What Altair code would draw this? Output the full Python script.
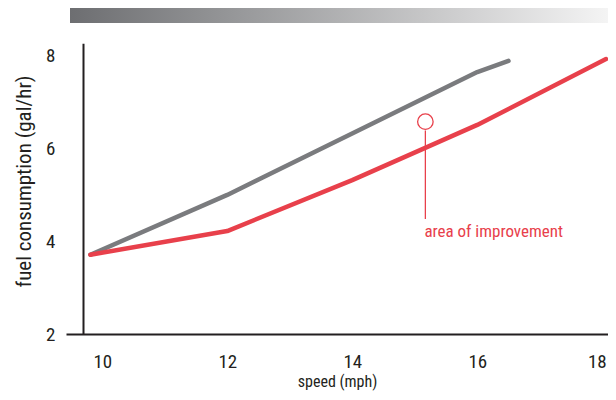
import altair as alt
import pandas as pd

# data
gray_speed = [9.81, 12.0, 16.0, 16.5]
gray_fuel = [3.71, 5.00, 7.65, 7.89]
red_speed = [9.81, 12.0, 14.0, 16.0, 18.06]
red_fuel = [3.71, 4.22, 5.32, 6.51, 7.93]
x_ticks = [10, 12, 14, 16, 18]
y_ticks = [2, 4, 6, 8]
note_text = "area of improvement"
note_speed = 15.17
note_circle_fuel = 6.58
note_line_top = 6.39
note_line_bottom = 4.48
note_text_fuel = 4.09

FONT = "Roboto Condensed, Liberation Sans Narrow, Roboto, sans-serif"
RED = "#e8404b"
GRAY = "#7a7b7e"
INK = "#231f20"

xs = alt.Scale(domain=[9.42, 18.092], nice=False, zero=False)
ys = alt.Scale(domain=[2, 8.6], nice=False, zero=False)

gray_df = pd.DataFrame({"speed": gray_speed, "fuel": gray_fuel, "order": range(len(gray_speed))})
red_df = pd.DataFrame({"speed": red_speed, "fuel": red_fuel, "order": range(len(red_speed))})

x_axis = alt.Axis(values=x_ticks, format="d", title="speed (mph)", domain=True, domainColor=INK,
                  domainWidth=2, ticks=False, grid=False, labelFont=FONT, labelFontSize=19,
                  labelColor=INK, labelPadding=18, labelFlush=10, labelFlushOffset=4,
                  titleFont=FONT, titleFontSize=16,
                  titleFontWeight="normal", titleColor=INK, titlePadding=2)
y_axis = alt.Axis(values=y_ticks, format="d", title="fuel consumption (gal/hr)", domain=False,
                  ticks=False, grid=False, labelFont=FONT, labelFontSize=19, labelColor=INK,
                  labelPadding=11, titleFont=FONT, titleFontSize=21, titleFontWeight="normal",
                  titleColor=INK, titlePadding=11)

base_gray = alt.Chart(gray_df).mark_line(color=GRAY, strokeWidth=4.5, strokeCap="round",
                                         strokeJoin="round").encode(
    x=alt.X("speed:Q", scale=xs, axis=x_axis),
    y=alt.Y("fuel:Q", scale=ys, axis=y_axis),
    order="order:Q",
)
red_line = alt.Chart(red_df).mark_line(color=RED, strokeWidth=4.5, strokeCap="round",
                                       strokeJoin="round").encode(
    x=alt.X("speed:Q", scale=xs),
    y=alt.Y("fuel:Q", scale=ys),
    order="order:Q",
)

yaxis_df = pd.DataFrame({"x": [9.70], "y1": [2.0], "y2": [8.26]})
y_rule = alt.Chart(yaxis_df).mark_rule(color=INK, strokeWidth=2).encode(
    x=alt.X("x:Q", scale=xs), y=alt.Y("y1:Q", scale=ys), y2="y2:Q")

note_df = pd.DataFrame({"x": [note_speed], "c": [note_circle_fuel], "t1": [note_line_top],
                        "t2": [note_line_bottom], "ty": [note_text_fuel], "label": [note_text]})
circle = alt.Chart(note_df).mark_point(shape="circle", size=240, filled=False, color=RED,
                                       strokeWidth=1.3, opacity=1).encode(
    x=alt.X("x:Q", scale=xs), y=alt.Y("c:Q", scale=ys))
leader = alt.Chart(note_df).mark_rule(color=RED, strokeWidth=1.3).encode(
    x=alt.X("x:Q", scale=xs), y=alt.Y("t1:Q", scale=ys), y2="t2:Q")
label = alt.Chart(note_df).mark_text(color=RED, font=FONT, fontSize=17, align="left",
                                     baseline="alphabetic", dx=-1).encode(
    x=alt.X("x:Q", scale=xs), y=alt.Y("ty:Q", scale=ys), text="label:N")

bar = alt.Chart(note_df).mark_rect(
    color=alt.Gradient(gradient="linear", x1=0, y1=0, x2=1, y2=0,
                       stops=[alt.GradientStop(offset=0, color="#6d6e71"),
                              alt.GradientStop(offset=1, color="#f4f4f4")])
).encode(x=alt.value(4), x2=alt.value(542), y=alt.value(-20), y2=alt.value(-5))

chart = alt.layer(bar, base_gray, red_line, y_rule, circle, leader, label).properties(
    width=542, height=306,
    autosize=alt.AutoSizeParams(type="none"),
    padding={"left": 58, "top": 20, "right": 0, "bottom": 58},
).configure_view(stroke=None)

chart.save("out.html", embed_options={"renderer": "svg", "actions": False})
